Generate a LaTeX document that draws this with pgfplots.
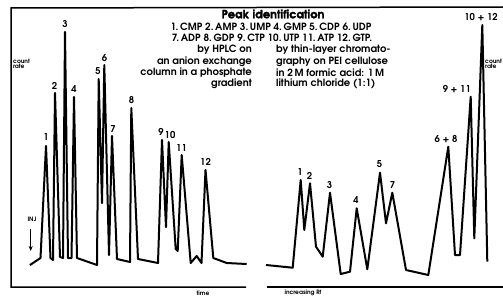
\documentclass[border=0pt]{standalone}
\usepackage{pgfplots}
\pgfplotsset{compat=1.18}
\usetikzlibrary{arrows.meta}
\usepackage{fontspec}
\setmainfont{TeX Gyre Adventor}
\begin{document}
\begin{tikzpicture}
\begin{axis}[
  scale only axis, width=503bp, height=297bp,
  xmin=0, xmax=503, ymin=0, ymax=297, y dir=reverse,
  hide axis, clip=false,
]
% frame
\addplot[black, line width=1.5bp] coordinates {(503,7) (11,8) (11,287) (246,287)};
\addplot[black, line width=1.5bp] coordinates {(267,287) (503,287)};
% HPLC trace
\addplot[black, line width=2bp, line join=round] coordinates {
(30,265) (40.5,258) (46,146) (50.5,258) (53,260) (55,93) (60,257) (63,258)
(65,32) (68,258) (71.5,258) (74,97) (77,258) (97,265) (98.7,79) (102,203)
(104.3,65) (109,255) (112,136) (117,259) (130,262) (131.3,108) (138,259)
(158,263) (162,140) (166,227) (168.7,142) (175.7,249) (177.7,251) (181.7,155)
(190.7,263) (196.7,256) (201.5,263) (205.5,170) (213.3,258) (226.7,263) (246.7,264)};
% TLC trace
\addplot[black, line width=2bp, line join=round] coordinates {
(266,265) (292.7,267.7) (300.7,180) (304.3,230) (310,183.3) (316,246.7)
(322.7,256.7) (330,192.7) (340.7,274) (350,271.7) (356.7,208.3) (367.3,269.3)
(380,172.7) (386,223.3) (392.3,192.7) (406,270) (428.3,275) (448.3,146.7)
(455,255) (460,255) (470.7,96.7) (474.3,238.3) (482.3,25) (487.3,261.7)};
% injection arrow
\addplot[black, line width=1.1bp, -{Stealth[length=5bp,width=4bp]}] coordinates {(30.7,229) (30.7,251)};

% peak labels left
\begin{scope}[every node/.style={font=\fontsize{9.5}{9.5}\selectfont\bfseries, inner sep=0pt}]
\node at (axis cs:46,137) {1};
\node at (axis cs:54.5,86) {2};
\node at (axis cs:65,24) {3};
\node at (axis cs:74,89) {4};
\node at (axis cs:98,71) {5};
\node at (axis cs:104.5,58) {6};
\node at (axis cs:113,129) {7};
\node at (axis cs:131.5,100) {8};
\node at (axis cs:161,132) {9};
\node at (axis cs:170,135) {10};
\node at (axis cs:181.5,148) {11};
\node at (axis cs:205.5,162) {12};
% right
\node at (axis cs:300,172) {1};
\node at (axis cs:309.5,176) {2};
\node at (axis cs:329.5,185) {3};
\node at (axis cs:356,200) {4};
\node at (axis cs:379.5,164) {5};
\node at (axis cs:392.5,185) {7};
\node at (axis cs:446,139) {6 + 8};
\node[anchor=east] at (axis cs:471,89) {9 + 11};
\node at (axis cs:481,17) {10 + 12};
\end{scope}

% small labels
\begin{scope}[every node/.style={font=\fontsize{6}{5.5}\selectfont\bfseries, inner sep=0pt}]
\node[anchor=west, align=left] at (axis cs:13,64) {count\\rate};
\node[anchor=west, align=left] at (axis cs:485,64) {count\\rate};
\node at (axis cs:32,219) {INJ};
\node at (axis cs:203,293) {time};
\node at (axis cs:303,293) {increasing Rf};
\end{scope}

% header
\node[font=\fontsize{11.5}{11.5}\selectfont\bfseries\addfontfeatures{FakeBold=1.6}, inner sep=0pt] at (axis cs:273,14) {Peak identification};
\begin{scope}[every node/.style={font=\fontsize{10}{10}\selectfont\bfseries, inner sep=0pt}]
\node at (axis cs:271,26.5) {1.\,CMP 2.\,AMP 3.\,UMP 4.\,GMP 5.\,CDP 6.\,UDP};
\node at (axis cs:272,37.5) {7.\,ADP 8.\,GDP 9.\,CTP 10.\,UTP 11.\,ATP 12.\,GTP.};
\node[anchor=east] at (axis cs:252,50) {by HPLC on};
\node[anchor=east] at (axis cs:252,61.5) {an anion exchange};
\node[anchor=east] at (axis cs:252,73) {column in a phosphate};
\node[anchor=east] at (axis cs:252,84) {gradient};
\node[anchor=west] at (axis cs:276,50) {by thin-layer chromato-};
\node[anchor=west] at (axis cs:276,61.5) {graphy on PEI cellulose};
\node[anchor=west] at (axis cs:276,73) {in 2\,M formic acid: 1\,M};
\node[anchor=west] at (axis cs:276,84) {lithium chloride (1:1)};
\end{scope}
\end{axis}
\pgfresetboundingbox
\path (current axis.south west) rectangle (current axis.north east);
\end{tikzpicture}
\end{document}
